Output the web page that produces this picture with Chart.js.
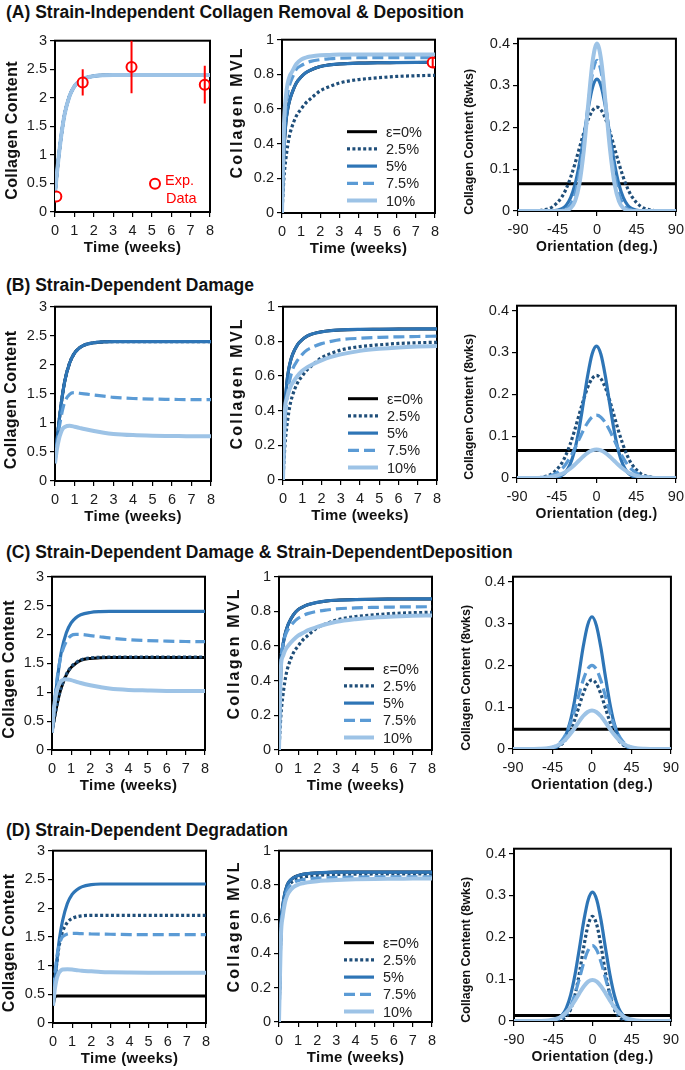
<!DOCTYPE html>
<html><head><meta charset="utf-8">
<script src="https://cdn.jsdelivr.net/npm/chart.js@4.4.1/dist/chart.umd.min.js"></script>
<style>
html,body{margin:0;padding:0;background:#fff;}
body{width:685px;height:1070px;position:relative;overflow:hidden;font-family:'Liberation Sans',Arial,sans-serif;}
.ptitle{position:absolute;left:6px;font-weight:bold;font-size:17.5px;line-height:20px;color:#111;white-space:nowrap;}
canvas{position:absolute;}
</style></head><body>
<div class="ptitle" style="top:2px">(A) Strain-Independent Collagen Removal &amp; Deposition</div>
<div class="ptitle" style="top:275px">(B) Strain-Dependent Damage</div>
<div class="ptitle" style="top:542px">(C) Strain-Dependent Damage &amp; Strain-DependentDeposition</div>
<div class="ptitle" style="top:820px">(D) Strain-Dependent Degradation</div>
<script>
// ---------- DATA ----------
const seriesLabels = ['ε=0%', '2.5%', '5%', '7.5%', '10%'];
const timeWeeks = [0, 0.1, 0.2, 0.3, 0.4, 0.5, 0.75, 1, 1.25, 1.5, 2, 2.5, 3, 4, 5, 6, 7, 8];
const orientDeg = [-90, -75, -60, -50, -40, -35, -30, -25, -20, -15, -10, -5, 0, 5, 10, 15, 20, 25, 30, 35, 40, 50, 60, 75, 90];
const timeTicks = [0, 1, 2, 3, 4, 5, 6, 7, 8];
const orientTicks = [-90, -45, 0, 45, 90];

// (A)
const contentA = [0.32, 0.68, 1.0, 1.28, 1.52, 1.72, 2.03, 2.2, 2.29, 2.34, 2.38, 2.395, 2.4, 2.4, 2.4, 2.4, 2.4, 2.4];
const mvlA_5 = [0, 0.35, 0.52, 0.6, 0.65, 0.685, 0.75, 0.785, 0.81, 0.825, 0.845, 0.855, 0.86, 0.865, 0.867, 0.868, 0.869, 0.87];
const mvlA_0 = [0, 0.35, 0.52, 0.6, 0.65, 0.685, 0.75, 0.785, 0.81, 0.825, 0.845, 0.855, 0.86, 0.865, 0.867, 0.868, 0.869, 0.87];
const mvlA_2p5 = [0, 0.2, 0.31, 0.39, 0.45, 0.49, 0.56, 0.6, 0.635, 0.66, 0.705, 0.73, 0.75, 0.77, 0.78, 0.788, 0.792, 0.795];
const mvlA_7p5 = [0, 0.42, 0.6, 0.69, 0.74, 0.77, 0.83, 0.85, 0.865, 0.875, 0.885, 0.89, 0.893, 0.896, 0.897, 0.897, 0.897, 0.897];
const mvlA_10 = [0, 0.5, 0.67, 0.75, 0.79, 0.81, 0.86, 0.885, 0.897, 0.903, 0.91, 0.912, 0.914, 0.915, 0.915, 0.915, 0.915, 0.915];
const orientA_0 = [0.065, 0.065, 0.065, 0.065, 0.065, 0.065, 0.065, 0.065, 0.065, 0.065, 0.065, 0.065, 0.065, 0.065, 0.065, 0.065, 0.065, 0.065, 0.065, 0.065, 0.065, 0.065, 0.065, 0.065, 0.065];
const orientA_2p5 = [0, 0.0002, 0.0028, 0.0109, 0.0336, 0.0536, 0.0805, 0.1136, 0.1504, 0.1872, 0.2189, 0.2403, 0.248, 0.2403, 0.2189, 0.1872, 0.1504, 0.1136, 0.0805, 0.0536, 0.0336, 0.0109, 0.0028, 0.0002, 0];
const orientA_5 = [0, 0, 0, 0.0005, 0.0053, 0.0138, 0.0317, 0.0639, 0.1136, 0.1773, 0.2441, 0.2955, 0.315, 0.2955, 0.2441, 0.1773, 0.1136, 0.0639, 0.0317, 0.0138, 0.0053, 0.0005, 0, 0, 0];
const orientA_7p5 = [0, 0, 0, 0.0001, 0.0014, 0.0051, 0.0158, 0.041, 0.0896, 0.1649, 0.2545, 0.3301, 0.36, 0.3301, 0.2545, 0.1649, 0.0896, 0.041, 0.0158, 0.0051, 0.0014, 0.0001, 0, 0, 0];
const orientA_10 = [0, 0, 0, 0, 0.0003, 0.0016, 0.0068, 0.0235, 0.0652, 0.1442, 0.254, 0.3572, 0.40, 0.3572, 0.254, 0.1442, 0.0652, 0.0235, 0.0068, 0.0016, 0.0003, 0, 0, 0, 0];
const expTime = [0.07, 1.43, 3.95, 7.73];
const expContent = [0.27, 2.27, 2.54, 2.23];
const expContentErr = [0, 0.23, 0.46, 0.33];
const expMvlTime = [7.88];
const expMvl = [0.868];
const expMvlErr = [0.03];

// (B)
const contentB_5 = [0.32, 0.68, 1.0, 1.28, 1.52, 1.72, 2.03, 2.2, 2.29, 2.34, 2.38, 2.395, 2.4, 2.4, 2.4, 2.4, 2.4, 2.4];
const contentB_7p5 = [0.32, 0.62, 0.88, 1.08, 1.24, 1.36, 1.49, 1.52, 1.51, 1.5, 1.48, 1.46, 1.44, 1.42, 1.41, 1.405, 1.4, 1.4];
const contentB_10 = [0.3, 0.55, 0.72, 0.83, 0.9, 0.93, 0.95, 0.935, 0.915, 0.895, 0.86, 0.83, 0.81, 0.79, 0.78, 0.775, 0.77, 0.77];
const mvlB_5 = [0, 0.4, 0.56, 0.64, 0.69, 0.725, 0.78, 0.81, 0.83, 0.842, 0.855, 0.862, 0.866, 0.869, 0.87, 0.871, 0.872, 0.872];
const mvlB_2p5 = [0, 0.2, 0.31, 0.39, 0.45, 0.49, 0.56, 0.6, 0.635, 0.66, 0.705, 0.73, 0.75, 0.77, 0.78, 0.788, 0.792, 0.795];
const mvlB_7p5 = [0, 0.33, 0.47, 0.55, 0.6, 0.64, 0.69, 0.725, 0.75, 0.765, 0.787, 0.8, 0.81, 0.818, 0.823, 0.826, 0.828, 0.83];
const mvlB_10 = [0, 0.4, 0.47, 0.51, 0.54, 0.56, 0.6, 0.63, 0.65, 0.665, 0.69, 0.71, 0.725, 0.745, 0.757, 0.765, 0.77, 0.773];
const orientB_0 = [0.066, 0.066, 0.066, 0.066, 0.066, 0.066, 0.066, 0.066, 0.066, 0.066, 0.066, 0.066, 0.066, 0.066, 0.066, 0.066, 0.066, 0.066, 0.066, 0.066, 0.066, 0.066, 0.066, 0.066, 0.066];
const orientB_2p5 = [0, 0.0002, 0.0027, 0.0108, 0.0331, 0.053, 0.0796, 0.1122, 0.1486, 0.185, 0.2162, 0.2374, 0.245, 0.2374, 0.2162, 0.185, 0.1486, 0.1122, 0.0796, 0.053, 0.0331, 0.0108, 0.0027, 0.0002, 0];
const orientB_5 = [0, 0, 0, 0.0005, 0.0053, 0.0138, 0.0317, 0.0639, 0.1136, 0.1773, 0.2441, 0.2955, 0.315, 0.2955, 0.2441, 0.1773, 0.1136, 0.0639, 0.0317, 0.0138, 0.0053, 0.0005, 0, 0, 0];
const orientB_7p5 = [0, 0.0001, 0.0017, 0.0066, 0.0203, 0.0324, 0.0487, 0.0687, 0.091, 0.1133, 0.1324, 0.1454, 0.15, 0.1454, 0.1324, 0.1133, 0.091, 0.0687, 0.0487, 0.0324, 0.0203, 0.0066, 0.0017, 0.0001, 0];
const orientB_10 = [0, 0, 0.0008, 0.003, 0.0092, 0.0147, 0.0221, 0.0311, 0.0412, 0.0513, 0.06, 0.0659, 0.068, 0.0659, 0.06, 0.0513, 0.0412, 0.0311, 0.0221, 0.0147, 0.0092, 0.003, 0.0008, 0, 0];

// (C)
const contentC_0 = [0.3, 0.5, 0.68, 0.84, 0.98, 1.09, 1.3, 1.43, 1.5, 1.55, 1.585, 1.595, 1.6, 1.6, 1.6, 1.6, 1.6, 1.6];
const contentC_2p5 = [0.3, 0.5, 0.69, 0.85, 0.99, 1.1, 1.31, 1.44, 1.51, 1.56, 1.595, 1.605, 1.61, 1.61, 1.61, 1.61, 1.61, 1.61];
const contentC_5 = [0.32, 0.68, 1.0, 1.28, 1.52, 1.72, 2.03, 2.2, 2.29, 2.34, 2.38, 2.395, 2.4, 2.4, 2.4, 2.4, 2.4, 2.4];
const contentC_7p5 = [0.32, 0.7, 1.05, 1.32, 1.52, 1.67, 1.88, 1.98, 2.0, 2.0, 1.98, 1.96, 1.94, 1.91, 1.895, 1.885, 1.878, 1.875];
const contentC_10 = [0.3, 0.7, 0.95, 1.08, 1.16, 1.2, 1.225, 1.21, 1.185, 1.16, 1.12, 1.09, 1.065, 1.04, 1.03, 1.022, 1.02, 1.02];
const mvlC_5 = [0, 0.5, 0.6, 0.66, 0.7, 0.73, 0.78, 0.81, 0.826, 0.838, 0.852, 0.86, 0.864, 0.868, 0.87, 0.871, 0.872, 0.872];
const mvlC_2p5 = [0, 0.2, 0.31, 0.39, 0.45, 0.49, 0.56, 0.6, 0.635, 0.66, 0.705, 0.73, 0.75, 0.77, 0.78, 0.788, 0.792, 0.795];
const mvlC_7p5 = [0, 0.5, 0.6, 0.65, 0.68, 0.7, 0.735, 0.76, 0.775, 0.787, 0.8, 0.808, 0.814, 0.82, 0.823, 0.825, 0.826, 0.827];
const mvlC_10 = [0, 0.48, 0.54, 0.57, 0.59, 0.605, 0.635, 0.66, 0.675, 0.69, 0.71, 0.727, 0.74, 0.755, 0.765, 0.77, 0.774, 0.776];
const orientC_0 = [0.047, 0.047, 0.047, 0.047, 0.047, 0.047, 0.047, 0.047, 0.047, 0.047, 0.047, 0.047, 0.047, 0.047, 0.047, 0.047, 0.047, 0.047, 0.047, 0.047, 0.047, 0.047, 0.047, 0.047, 0.047];
const orientC_2p5 = [0, 0, 0, 0.0006, 0.0047, 0.0108, 0.0223, 0.0411, 0.0678, 0.1001, 0.1322, 0.1561, 0.165, 0.1561, 0.1322, 0.1001, 0.0678, 0.0411, 0.0223, 0.0108, 0.0047, 0.0006, 0, 0, 0];
const orientC_5 = [0, 0, 0, 0.0005, 0.0053, 0.0138, 0.0317, 0.0639, 0.1136, 0.1773, 0.2441, 0.2955, 0.316, 0.2955, 0.2441, 0.1773, 0.1136, 0.0639, 0.0317, 0.0138, 0.0053, 0.0005, 0, 0, 0];
const orientC_7p5 = [0, 0, 0.0002, 0.0015, 0.0088, 0.0183, 0.0345, 0.059, 0.0916, 0.1288, 0.1646, 0.1904, 0.2, 0.1904, 0.1646, 0.1288, 0.0916, 0.059, 0.0345, 0.0183, 0.0088, 0.0015, 0.0002, 0, 0];
const orientC_10 = [0, 0, 0.0004, 0.0019, 0.0078, 0.0139, 0.0229, 0.0351, 0.0496, 0.065, 0.0788, 0.0885, 0.092, 0.0885, 0.0788, 0.065, 0.0496, 0.0351, 0.0229, 0.0139, 0.0078, 0.0019, 0.0004, 0, 0];

// (D)
const contentD_0 = [0.3, 0.45, 0.47, 0.47, 0.47, 0.47, 0.47, 0.47, 0.47, 0.47, 0.47, 0.47, 0.47, 0.47, 0.47, 0.47, 0.47, 0.47];
const contentD_2p5 = [0.32, 0.75, 1.05, 1.3, 1.47, 1.59, 1.75, 1.82, 1.85, 1.865, 1.875, 1.875, 1.875, 1.875, 1.875, 1.875, 1.875, 1.875];
const contentD_5 = [0.32, 0.72, 1.07, 1.37, 1.6, 1.78, 2.08, 2.24, 2.32, 2.37, 2.41, 2.42, 2.42, 2.42, 2.42, 2.42, 2.42, 2.42];
const contentD_7p5 = [0.32, 0.85, 1.15, 1.33, 1.44, 1.5, 1.55, 1.56, 1.56, 1.555, 1.55, 1.547, 1.545, 1.54, 1.54, 1.54, 1.54, 1.54];
const contentD_10 = [0.3, 0.6, 0.78, 0.87, 0.91, 0.93, 0.935, 0.93, 0.92, 0.91, 0.9, 0.89, 0.885, 0.88, 0.877, 0.875, 0.875, 0.875];
const mvlD_5 = [0, 0.55, 0.68, 0.75, 0.79, 0.815, 0.842, 0.855, 0.862, 0.866, 0.87, 0.873, 0.875, 0.875, 0.875, 0.875, 0.875, 0.875];
const mvlD_2p5 = [0, 0.53, 0.66, 0.73, 0.77, 0.795, 0.825, 0.838, 0.846, 0.85, 0.856, 0.859, 0.861, 0.863, 0.864, 0.865, 0.865, 0.865];
const mvlD_7p5 = [0, 0.52, 0.65, 0.72, 0.76, 0.785, 0.812, 0.825, 0.832, 0.836, 0.84, 0.842, 0.844, 0.846, 0.847, 0.847, 0.847, 0.847];
const mvlD_10 = [0, 0.5, 0.62, 0.69, 0.73, 0.755, 0.787, 0.802, 0.81, 0.815, 0.822, 0.826, 0.829, 0.833, 0.835, 0.836, 0.837, 0.838];
const orientD_0 = [0.013, 0.013, 0.013, 0.013, 0.013, 0.013, 0.013, 0.013, 0.013, 0.013, 0.013, 0.013, 0.013, 0.013, 0.013, 0.013, 0.013, 0.013, 0.013, 0.013, 0.013, 0.013, 0.013, 0.013, 0.013];
const orientD_2p5 = [0, 0, 0, 0, 0.001, 0.0036, 0.011, 0.0285, 0.0623, 0.1145, 0.1768, 0.2293, 0.25, 0.2293, 0.1768, 0.1145, 0.0623, 0.0285, 0.011, 0.0036, 0.001, 0, 0, 0, 0];
const orientD_5 = [0, 0, 0, 0.0005, 0.0052, 0.0135, 0.031, 0.0625, 0.111, 0.1734, 0.2387, 0.2889, 0.308, 0.2889, 0.2387, 0.1734, 0.111, 0.0625, 0.031, 0.0135, 0.0052, 0.0005, 0, 0, 0];
const orientD_7p5 = [0, 0, 0, 0.0003, 0.003, 0.0079, 0.0181, 0.0365, 0.0649, 0.1013, 0.1395, 0.1688, 0.18, 0.1688, 0.1395, 0.1013, 0.0649, 0.0365, 0.0181, 0.0079, 0.003, 0.0003, 0, 0, 0];
const orientD_10 = [0, 0, 0.0002, 0.0013, 0.0062, 0.0118, 0.0206, 0.0332, 0.0491, 0.0664, 0.0824, 0.0939, 0.098, 0.0939, 0.0824, 0.0664, 0.0491, 0.0332, 0.0206, 0.0118, 0.0062, 0.0013, 0.0002, 0, 0];

// ---------- STYLE ----------
const FONT = "'Liberation Sans', Arial, Helvetica, sans-serif";
Chart.defaults.font.family = FONT;
const STYLE = [
  {color: '#000000', width: 3, dash: []},
  {color: '#1F4E79', width: 3.2, dash: [3, 2.4]},
  {color: '#2E75B6', width: 3.2, dash: []},
  {color: '#5B9BD5', width: 3.2, dash: [11, 5]},
  {color: '#9DC3E6', width: 4, dash: []}
];

const timeAxis = {min: 0, max: 8, ticks: timeTicks, title: 'Time (weeks)', size: 15};
const orientAxis = {min: -90, max: 90, ticks: orientTicks, title: 'Orientation (deg.)', size: 14};
const contentY = {min: 0, max: 3, step: 0.5, title: 'Collagen Content', size: 16, spacing: 0.4};
const mvlY = {min: 0, max: 1, step: 0.2, title: 'Collagen MVL', size: 16, spacing: 2.2};
const orientY = {min: 0, max: 0.4117, step: 0.1, title: 'Collagen Content (8wks)', size: 12.5, spacing: 0};

const panels = [
  {rect: [55, 37, 210, 212], xa: timeAxis, ya: contentY, xs: timeWeeks, series: [contentA, contentA, contentA, contentA, contentA], tOff: -42, tShift: 4, exp: true},
  {rect: [282, 36, 435, 213], xa: timeAxis, ya: mvlY, xs: timeWeeks, series: [mvlA_0, mvlA_2p5, mvlA_5, mvlA_7p5, mvlA_10], tOff: -44, tShift: -14, legend: true, expMvl: true},
  {rect: [518, 35, 677, 211], xa: orientAxis, ya: orientY, xs: orientDeg, series: [orientA_0, orientA_2p5, orientA_5, orientA_7p5, orientA_10], tOff: -48, tShift: 17},

  {rect: [55, 303, 211, 481], xa: timeAxis, ya: contentY, xs: timeWeeks, series: [contentB_5, contentB_5, contentB_5, contentB_7p5, contentB_10], tOff: -43, tShift: 6},
  {rect: [283, 303, 437, 480], xa: timeAxis, ya: mvlY, xs: timeWeeks, series: [mvlB_5, mvlB_2p5, mvlB_5, mvlB_7p5, mvlB_10], tOff: -45, tShift: -10, legend: true},
  {rect: [517, 302, 677, 478], xa: orientAxis, ya: orientY, xs: orientDeg, series: [orientB_0, orientB_2p5, orientB_5, orientB_7p5, orientB_10], tOff: -47, tShift: 15},

  {rect: [52, 573, 205, 750], xa: timeAxis, ya: contentY, xs: timeWeeks, series: [contentC_0, contentC_2p5, contentC_5, contentC_7p5, contentC_10], tOff: -42, tShift: 6},
  {rect: [279, 573, 432, 750], xa: timeAxis, ya: mvlY, xs: timeWeeks, series: [mvlC_5, mvlC_2p5, mvlC_5, mvlC_7p5, mvlC_10], tOff: -44, tShift: -10, legend: true},
  {rect: [513, 573, 672, 749], xa: orientAxis, ya: orientY, xs: orientDeg, series: [orientC_0, orientC_2p5, orientC_5, orientC_7p5, orientC_10], tOff: -46, tShift: 15},

  {rect: [53, 847, 206, 1023], xa: timeAxis, ya: contentY, xs: timeWeeks, series: [contentD_0, contentD_2p5, contentD_5, contentD_7p5, contentD_10], tOff: -43, tShift: 6},
  {rect: [279, 847, 432, 1022], xa: timeAxis, ya: mvlY, xs: timeWeeks, series: [mvlD_5, mvlD_2p5, mvlD_5, mvlD_7p5, mvlD_10], tOff: -44, tShift: -10, legend: true},
  {rect: [514, 845, 672, 1021], xa: orientAxis, ya: orientY, xs: orientDeg, series: [orientD_0, orientD_2p5, orientD_5, orientD_7p5, orientD_10], tOff: -47, tShift: 15}
];

// ---------- PLUGINS ----------
const framePlugin = {
  id: 'frame',
  beforeDatasetsDraw(chart) {
    const a = chart.chartArea, c = chart.ctx;
    c.save(); c.strokeStyle = '#000'; c.lineWidth = 2;
    c.strokeRect(a.left, a.top, a.right - a.left, a.bottom - a.top);
    c.restore();
  }
};

function titlesPlugin(p) {
  return {
    id: 'axisTitles',
    afterDraw(chart) {
      const a = chart.chartArea, c = chart.ctx;
      c.save();
      c.fillStyle = '#111'; c.textAlign = 'center'; c.textBaseline = 'middle';
      c.font = 'bold ' + p.ya.size + 'px ' + FONT;
      if ('letterSpacing' in c) c.letterSpacing = (p.ya.spacing || 0) + 'px';
      c.translate(a.left + p.tOff, (a.top + a.bottom) / 2 + p.tShift);
      c.rotate(-Math.PI / 2);
      c.fillText(p.ya.title, 0, 0);
      c.restore();
      c.save();
      c.fillStyle = '#111'; c.textAlign = 'center'; c.textBaseline = 'middle';
      c.font = 'bold ' + p.xa.size + 'px ' + FONT;
      if ('letterSpacing' in c) c.letterSpacing = '0.3px';
      c.fillText(p.xa.title, (a.left + a.right) / 2, a.bottom + 36);
      c.restore();
    }
  };
}

const legendPlugin = {
  id: 'innerLegend',
  afterDatasetsDraw(chart) {
    const a = chart.chartArea, c = chart.ctx;
    c.save();
    c.font = '14.5px ' + FONT; c.textBaseline = 'middle'; c.textAlign = 'left';
    seriesLabels.forEach((lab, i) => {
      const y = a.top + 92 + i * 17.2;
      c.beginPath();
      c.strokeStyle = STYLE[i].color; c.lineWidth = STYLE[i].width;
      c.setLineDash(STYLE[i].dash); c.lineCap = 'butt';
      c.moveTo(a.left + 65, y); c.lineTo(a.left + 95, y); c.stroke();
      c.setLineDash([]);
      c.fillStyle = '#222';
      c.fillText(lab, a.left + 104, y + 1);
    });
    c.restore();
  }
};

const errorBarPlugin = {
  id: 'errorBars',
  afterDatasetsDraw(chart) {
    const c = chart.ctx, xs = chart.scales.x, ys = chart.scales.y, a = chart.chartArea;
    chart.data.datasets.forEach(ds => {
      if (!ds.errors) return;
      c.save(); c.strokeStyle = '#FF0000'; c.lineWidth = 2;
      c.beginPath(); c.rect(a.left, a.top - 1, a.right - a.left + 6, a.bottom - a.top + 2); c.clip();
      ds.data.forEach((pt, i) => {
        const e = ds.errors[i]; if (!e) return;
        const px = xs.getPixelForValue(pt.x);
        c.beginPath();
        c.moveTo(px, ys.getPixelForValue(pt.y - e));
        c.lineTo(px, ys.getPixelForValue(pt.y + e));
        c.stroke();
      });
      c.restore();
    });
  }
};

const expLegendPlugin = {
  id: 'expLegend',
  afterDraw(chart) {
    const a = chart.chartArea, c = chart.ctx;
    c.save();
    c.strokeStyle = '#FF0000'; c.lineWidth = 2; c.fillStyle = '#fff';
    c.beginPath(); c.arc(a.left + 100, a.top + 143, 5, 0, Math.PI * 2); c.fill(); c.stroke();
    c.fillStyle = '#FF0000'; c.font = '14.5px ' + FONT; c.textBaseline = 'middle'; c.textAlign = 'left';
    c.fillText('Exp.', a.left + 110, a.top + 140);
    c.fillText('Data', a.left + 111, a.top + 158);
    c.restore();
  }
};

const fmtTick = v => String(+Number(v).toFixed(3));

// ---------- BUILD ----------
const W = 58, H = 46, PT = 8, PR = 12;
panels.forEach(p => {
  const [L, T, R, B] = p.rect;
  const cv = document.createElement('canvas');
  const cw = R - L + W + PR, ch = B - T + PT + H;
  cv.width = cw; cv.height = ch;
  cv.style.left = (L - W) + 'px'; cv.style.top = (T - PT) + 'px';
  cv.style.width = cw + 'px'; cv.style.height = ch + 'px';
  document.body.appendChild(cv);

  const datasets = p.series.map((arr, i) => ({
    label: seriesLabels[i],
    data: p.xs.map((x, j) => ({x: x, y: arr[j]})),
    borderColor: STYLE[i].color,
    borderWidth: STYLE[i].width,
    borderDash: STYLE[i].dash,
    borderCapStyle: 'butt',
    pointRadius: 0,
    fill: false,
    cubicInterpolationMode: 'monotone',
    order: 4 - i
  }));
  const plugins = [framePlugin, titlesPlugin(p)];
  if (p.legend) plugins.push(legendPlugin);
  if (p.exp || p.expMvl) {
    const tx = p.exp ? expTime : expMvlTime, ty = p.exp ? expContent : expMvl, te = p.exp ? expContentErr : expMvlErr;
    datasets.push({
      label: 'Exp. Data',
      data: tx.map((x, j) => ({x: x, y: ty[j]})),
      errors: te,
      showLine: false,
      pointRadius: 5, pointHoverRadius: 5,
      pointBorderColor: '#FF0000', pointBackgroundColor: '#FFFFFF', pointBorderWidth: 2,
      order: -1
    });
    plugins.push(errorBarPlugin);
    if (p.exp) plugins.push(expLegendPlugin);
  }

  const tickCommon = {color: '#1a1a1a', font: {size: 14.5}, padding: 3, maxRotation: 0, autoSkip: false, includeBounds: false, callback: fmtTick};
  const gridCommon = {drawOnChartArea: false, drawTicks: true, tickLength: 5, color: '#000', lineWidth: 1.2};
  new Chart(cv, {
    type: 'line',
    data: {datasets: datasets},
    options: {
      responsive: false, animation: false, devicePixelRatio: 1,
      events: [],
      layout: {padding: {top: PT, right: PR, left: 0, bottom: 0}},
      plugins: {legend: {display: false}, tooltip: {enabled: false}},
      scales: {
        x: {
          type: 'linear', min: p.xa.min, max: p.xa.max, bounds: 'data',
          afterBuildTicks: s => { s.ticks = p.xa.ticks.map(v => ({value: v})); },
          ticks: Object.assign({}, tickCommon, {padding: 5}),
          grid: gridCommon, border: {display: false},
          afterFit: s => { s.height = H; }
        },
        y: {
          type: 'linear', min: p.ya.min, max: p.ya.max, bounds: 'data',
          ticks: Object.assign({}, tickCommon, {stepSize: p.ya.step}),
          grid: gridCommon, border: {display: false},
          afterFit: s => { s.width = W; }
        }
      }
    },
    plugins: plugins
  });
});
</script>
</body></html>
